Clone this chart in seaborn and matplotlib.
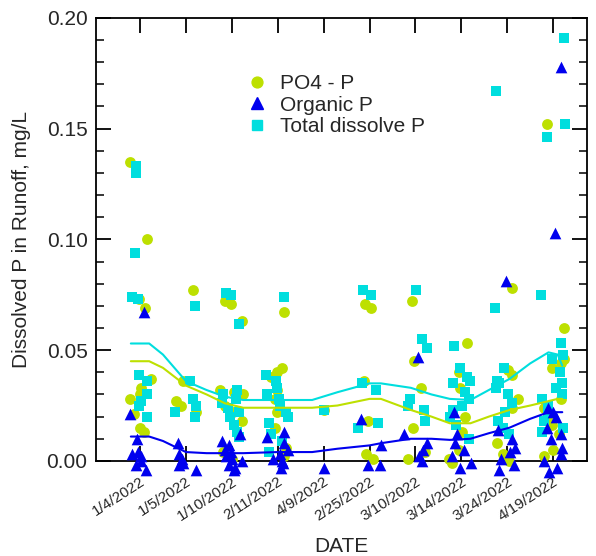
import numpy as np
import pandas as pd
import matplotlib
matplotlib.use("Agg")
import matplotlib.pyplot as plt
from matplotlib.ticker import MultipleLocator
import seaborn as sns

# sampling dates (category order as on the chart)
dates = ["1/4/2022", "1/5/2022", "1/10/2022", "2/11/2022", "4/9/2022",
         "2/25/2022", "3/10/2022", "3/14/2022", "3/24/2022", "4/19/2022"]

# readings per date, mg/L
po4 = [
    [0.135, 0.100, 0.073, 0.069, 0.037, 0.033, 0.030, 0.028, 0.021, 0.015, 0.013],
    [0.077, 0.036, 0.027, 0.025, 0.022],
    [0.072, 0.071, 0.063, 0.032, 0.031, 0.030, 0.025, 0.022, 0.018, 0.004, 0.001],
    [0.067, 0.042, 0.040, 0.038, 0.032, 0.028, 0.022, 0.015, 0.006, 0.002],
    [0.023],
    [0.071, 0.069, 0.036, 0.018, 0.003, 0.001],
    [0.072, 0.045, 0.033, 0.015, 0.004, 0.001],
    [0.053, 0.040, 0.033, 0.020, 0.013, 0.005, 0.001, -0.001],
    [0.078, 0.041, 0.039, 0.028, 0.024, 0.008, 0.003, 0.000],
    [0.152, 0.060, 0.046, 0.044, 0.042, 0.028, 0.024, 0.020, 0.016, 0.012, 0.005, 0.002],
]
organic = [
    [0.067, 0.021, 0.010, 0.004, 0.003, 0.002, 0.000, -0.002, -0.004],
    [0.008, 0.003, 0.001, -0.001, -0.002, -0.004],
    [0.012, 0.009, 0.007, 0.005, 0.004, 0.002, 0.001, 0.000, -0.002, -0.003, -0.004],
    [0.013, 0.011, 0.008, 0.005, 0.003, 0.001, 0.000, -0.001, -0.003],
    [-0.003],
    [0.019, 0.007, -0.002, -0.002],
    [0.047, 0.012, 0.008, 0.005, 0.002, 0.000],
    [0.022, 0.012, 0.008, 0.005, 0.002, -0.001, -0.003],
    [0.081, 0.014, 0.010, 0.006, 0.004, 0.001, -0.002, -0.004],
    [0.178, 0.103, 0.024, 0.022, 0.020, 0.015, 0.012, 0.010, 0.006, 0.003, 0.000, -0.003, -0.005],
]
tdp = [
    [0.133, 0.130, 0.094, 0.074, 0.073, 0.039, 0.036, 0.030, 0.027, 0.025, 0.020],
    [0.070, 0.036, 0.028, 0.025, 0.022, 0.020],
    [0.076, 0.075, 0.062, 0.032, 0.030, 0.028, 0.026, 0.024, 0.022, 0.020, 0.016, 0.013, 0.011],
    [0.074, 0.039, 0.036, 0.033, 0.030, 0.028, 0.025, 0.022, 0.020, 0.017, 0.012, 0.009, 0.004],
    [0.023],
    [0.077, 0.075, 0.035, 0.032, 0.017, 0.015],
    [0.077, 0.055, 0.051, 0.028, 0.025, 0.023, 0.018],
    [0.052, 0.042, 0.038, 0.036, 0.035, 0.031, 0.028, 0.025, 0.023, 0.020, 0.016, 0.010],
    [0.167, 0.069, 0.042, 0.036, 0.035, 0.033, 0.030, 0.026, 0.022, 0.018, 0.015, 0.012],
    [0.191, 0.152, 0.146, 0.075, 0.053, 0.048, 0.046, 0.040, 0.035, 0.033, 0.030,
     0.028, 0.025, 0.022, 0.018, 0.015, 0.013],
]

# smoothed trend lines (x in category units)
curve_pos = [-0.2, 0.2, 0.5, 1.0, 1.45, 1.85, 2.25, 3.0, 3.75, 4.3, 5.0,
             5.25, 5.9, 6.35, 6.75, 7.2, 7.6, 8.05, 8.5, 8.9, 9.1, 9.2]
po4_trend = [0.045, 0.045, 0.042, 0.034, 0.030, 0.026, 0.024, 0.024, 0.024, 0.025, 0.028,
             0.028, 0.023, 0.020, 0.017, 0.017, 0.020, 0.023, 0.025, 0.027, 0.028, 0.028]
org_trend = [0.011, 0.011, 0.009, 0.004, 0.0035, 0.0035, 0.0035, 0.004, 0.004, 0.0055, 0.007,
             0.008, 0.010, 0.010, 0.0095, 0.010, 0.0125, 0.015, 0.019, 0.022, 0.022, 0.022]
tdp_trend = [0.053, 0.053, 0.048, 0.036, 0.032, 0.029, 0.0275, 0.0275, 0.0275, 0.031, 0.035,
             0.035, 0.033, 0.030, 0.028, 0.0275, 0.032, 0.037, 0.044, 0.049, 0.048, 0.043]

col_po4 = "#bde000"
col_org = "#0000ee"
col_tdp = "#00dede"


def long_table(values):
    rows = []
    for d, vals in zip(dates, values):
        for v in vals:
            rows.append({"date": d, "value": v})
    return pd.DataFrame(rows)


def main():
    sns.set_style("ticks")
    plt.rcParams["font.family"] = ["Liberation Sans", "DejaVu Sans"]

    fig = plt.figure(figsize=(5.96, 5.56), dpi=100)
    ax = fig.add_axes([0.161, 0.171, 0.824, 0.797])

    np.random.seed(7)
    sns.stripplot(data=long_table(po4), x="date", y="value", order=dates, ax=ax,
                  color=col_po4, marker="o", size=7.8, jitter=0.26, linewidth=0,
                  clip_on=False, zorder=3)
    sns.stripplot(data=long_table(tdp), x="date", y="value", order=dates, ax=ax,
                  color=col_tdp, marker="s", size=6.8, jitter=0.26, linewidth=0,
                  clip_on=False, zorder=4)
    sns.stripplot(data=long_table(organic), x="date", y="value", order=dates, ax=ax,
                  color=col_org, marker="^", size=8.4, jitter=0.26, linewidth=0,
                  clip_on=False, zorder=5)

    for trend, c in [(po4_trend, col_po4), (org_trend, col_org), (tdp_trend, col_tdp)]:
        sns.lineplot(x=curve_pos, y=trend, ax=ax, color=c, linewidth=1.5,
                     sort=False, estimator=None, zorder=6)

    ax.set_xlim(-0.96, 9.74)
    ax.set_ylim(0, 0.20)
    ax.yaxis.set_major_locator(MultipleLocator(0.05))
    ax.yaxis.set_minor_locator(MultipleLocator(0.01))
    ax.set_yticks([0.0, 0.05, 0.10, 0.15, 0.20])
    ax.set_yticklabels(["0.00", "0.05", "0.10", "0.15", "0.20"], fontsize=15)
    ax.set_xticks(range(len(dates)))
    ax.set_xticklabels(dates, rotation=33, ha="right", rotation_mode="anchor", fontsize=11)

    ax.tick_params(axis="both", which="major", direction="in", length=11, width=1.3,
                   top=True, right=True, color="black")
    ax.tick_params(axis="y", which="minor", direction="in", length=5.5, width=1.3,
                   right=True)
    ax.tick_params(axis="y", which="major", pad=6)
    ax.tick_params(axis="x", which="major", pad=10)
    for s in ax.spines.values():
        s.set_linewidth(1.3)
        s.set_color("black")

    ax.set_xlabel("DATE", fontsize=15, labelpad=10)
    ax.set_ylabel("Dissolved P in Runoff, mg/L", fontsize=15, labelpad=11)

    handles = [
        plt.Line2D([], [], marker="o", color=col_po4, linestyle="none", markersize=7.8),
        plt.Line2D([], [], marker="^", color=col_org, linestyle="none", markersize=8.4),
        plt.Line2D([], [], marker="s", color=col_tdp, linestyle="none", markersize=6.8),
    ]
    ax.legend(handles, ["PO4 - P", "Organic P", "Total dissolve P"], loc="upper left",
              bbox_to_anchor=(0.265, 0.915), frameon=False, fontsize=15,
              handletextpad=0.5, labelspacing=0.12, handlelength=1.2)

    fig.savefig("out.png", dpi=100)
    plt.close(fig)


if __name__ == "__main__":
    main()
